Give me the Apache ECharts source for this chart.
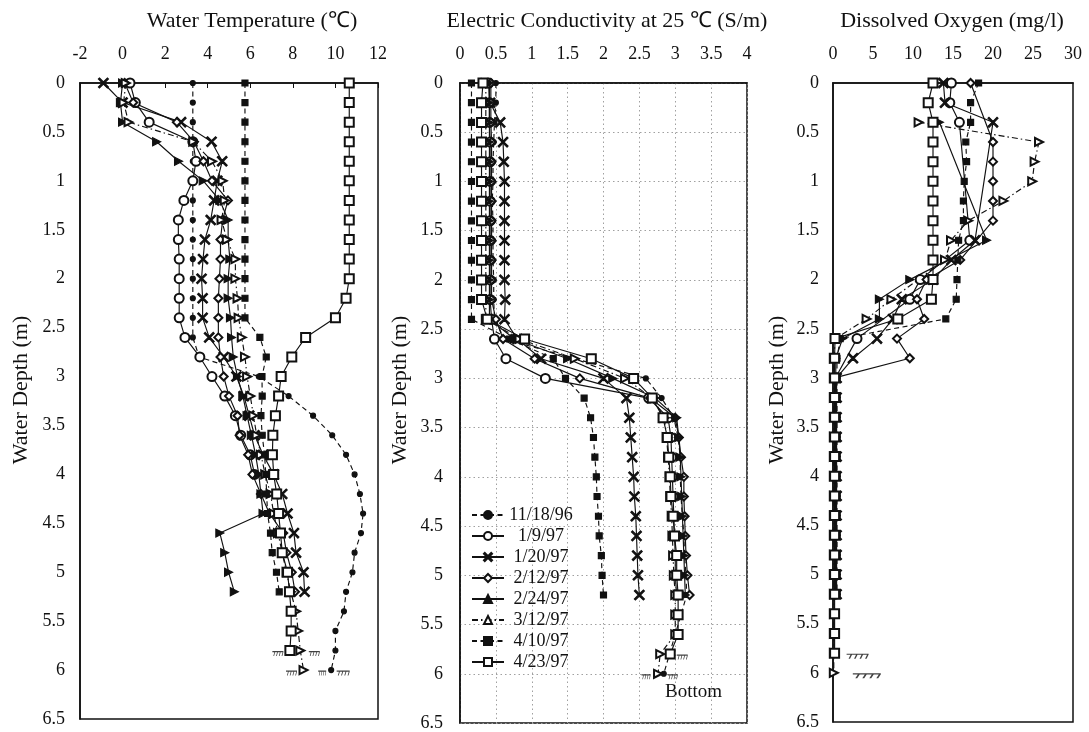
<!DOCTYPE html>
<html>
<head>
<meta charset="utf-8">
<script src="https://cdn.jsdelivr.net/npm/echarts@6/dist/echarts.min.js"></script>
<style>
  html, body { margin: 0; padding: 0; background: #fff; }
  #chart { width: 1089px; height: 732px; }
</style>
</head>
<body>
<div id="chart"></div>
<script>
// Sampling depths (m)
const DEPTH = [0, 0.2, 0.4, 0.6, 0.8, 1.0, 1.2, 1.4, 1.6, 1.8, 2.0, 2.2, 2.4, 2.6, 2.8, 3.0,
               3.2, 3.4, 3.6, 3.8, 4.0, 4.2, 4.4, 4.6, 4.8, 5.0, 5.2, 5.4, 5.6, 5.8, 6.0];

const DATES = ['11/18/96', '1/9/97', '1/20/97', '2/12/97', '2/24/97', '3/12/97', '4/10/97', '4/23/97'];

// Water temperature (°C) per survey date, aligned with DEPTH
const TEMP_111896 = [3.3, 3.3, 3.3, 3.3, 3.3, 3.3, 3.3, 3.3, 3.3, 3.3, 3.3, 3.3, 3.3, 3.3, 3.6, 6.4,
                     7.8, 8.95, 9.85, 10.5, 10.9, 11.15, 11.3, 11.2, 10.9, 10.8, 10.5, 10.4, 10.0, 10.0, 9.8];
const TEMP_010997 = [0.35, 0.6, 1.25, 3.3, 3.45, 3.3, 2.88, 2.62, 2.62, 2.66, 2.66, 2.66, 2.66, 2.93, 3.63, 4.2,
                     4.8, 5.3, 5.55, 6.0, 6.2, null, null, null, null, null, null, null, null, null, null];
const TEMP_012097 = [-0.9, 0.0, 2.75, 4.18, 4.68, 4.45, 4.3, 4.14, 3.87, 3.78, 3.71, 3.76, 3.76, 4.07, 4.75, 5.35,
                     5.7, 5.95, 6.2, 6.6, 7.1, 7.5, 7.75, 8.05, 8.15, 8.5, 8.55, null, null, null, null];
const TEMP_021297 = [0.1, 0.5, 2.55, 3.35, 3.8, 4.2, 4.95, 4.7, 4.6, 4.6, 4.55, 4.5, 4.5, 4.5, 4.6, 4.75,
                     5.0, 5.4, 5.5, 5.9, 6.1, 6.5, 6.9, 7.55, 7.7, 7.95, 8.1, null, null, null, null];
const TEMP_022497 = [0.0, -0.1, 0.0, 1.6, 2.63, 3.79, 4.57, 4.96, 4.96, 5.04, 4.96, 4.96, 5.07, 5.12, 5.2, 5.4,
                     5.65, 5.85, 6.05, 6.25, 6.4, 6.5, 6.6, 4.57, 4.8, 4.98, 5.25, null, null, null, null];
const TEMP_031297 = [0.15, 0.05, 0.28, 3.32, 4.2, 4.7, 4.8, 4.65, 4.9, 5.3, 5.3, 5.4, 5.45, 5.6, 5.75, 5.85,
                     6.0, 6.15, 6.3, 6.5, 6.7, 6.95, 7.1, 7.3, 7.5, 7.7, 7.9, 8.15, 8.25, 8.35, 8.5];
const TEMP_041097 = [5.75, 5.75, 5.75, 5.75, 5.75, 5.75, 5.75, 5.75, 5.75, 5.75, 5.75, 5.75, 5.75, 6.45, 6.75, 6.55,
                     6.56, 6.5, 6.56, 6.67, 6.73, 6.77, 6.81, 6.95, 7.03, 7.23, 7.36, null, null, null, null];
const TEMP_042397 = [10.65, 10.65, 10.65, 10.65, 10.65, 10.65, 10.65, 10.65, 10.65, 10.65, 10.65, 10.5, 10.0, 8.6, 7.95, 7.45,
                     7.33, 7.18, 7.06, 7.04, 7.1, 7.24, 7.33, 7.42, 7.5, 7.75, 7.84, 7.92, 7.92, 7.86, null];

// Electric conductivity at 25 °C (S/m)
const EC_111896 = [0.5, 0.5, 0.48, 0.47, 0.46, 0.46, 0.45, 0.46, 0.46, 0.46, 0.47, 0.47, 0.48, 0.62, null, 2.59,
                   2.81, 2.98, 3.04, 3.07, 3.07, 3.08, 3.1, 3.12, 3.13, 3.15, 3.16, null, null, null, 2.84];
const EC_010997 = [0.4, 0.41, 0.41, 0.42, 0.42, 0.42, 0.42, 0.42, 0.42, 0.42, 0.42, 0.42, 0.44, 0.48, 0.64, 1.19,
                   2.63, 2.9, 2.94, 2.95, 2.96, 2.97, 2.98, 2.99, 3.0, 3.0, 3.02, null, null, null, null];
const EC_012097 = [null, 0.42, 0.56, 0.6, 0.61, 0.62, 0.62, 0.62, 0.62, 0.62, 0.62, 0.63, 0.62, 0.8, 1.13, 2.0,
                   2.32, 2.36, 2.38, 2.4, 2.42, 2.43, 2.45, 2.46, 2.47, 2.48, 2.5, null, null, null, null];
const EC_021297 = [0.43, 0.43, 0.43, 0.44, 0.44, 0.44, 0.44, 0.44, 0.44, 0.44, 0.44, 0.44, 0.5, 0.6, 1.04, 1.67,
                   2.65, 3.0, 3.05, 3.08, 3.12, 3.12, 3.13, 3.14, 3.15, 3.17, 3.2, null, null, null, null];
const EC_022497 = [0.41, 0.41, 0.41, 0.41, 0.41, 0.41, 0.41, 0.41, 0.41, 0.41, 0.41, 0.41, 0.41, 0.76, 1.5, 2.13,
                   2.72, 3.02, 3.05, 3.07, 3.08, 3.09, 3.1, 3.11, 3.12, 3.13, 3.14, null, null, null, null];
const EC_031297 = [0.36, 0.36, 0.36, 0.36, 0.36, 0.36, 0.36, 0.36, 0.36, 0.36, 0.36, 0.36, 0.36, 0.83, 1.6, 2.3,
                   2.68, 2.85, 2.88, 2.9, 2.92, 2.93, 2.95, 2.96, 2.97, 2.98, 3.0, 3.0, 3.0, 2.79, 2.76];
const EC_041097 = [0.16, 0.16, 0.16, 0.16, 0.16, 0.16, 0.16, 0.16, 0.16, 0.16, 0.16, 0.16, 0.16, 0.69, 1.3, 1.47,
                   1.73, 1.82, 1.86, 1.88, 1.9, 1.91, 1.93, 1.94, 1.97, 1.98, 2.0, null, null, null, null];
const EC_042397 = [0.32, 0.3, 0.3, 0.3, 0.3, 0.3, 0.3, 0.3, 0.3, 0.3, 0.3, 0.3, 0.38, 0.9, 1.83, 2.42,
                   2.68, 2.83, 2.89, 2.91, 2.93, 2.94, 2.97, 2.99, 3.02, 3.02, 3.04, 3.04, 3.04, 2.93, null];

// Dissolved oxygen (mg/l)
const DO_010997 = [14.8, 14.6, 15.8, null, null, null, null, null, 17.1, null, 10.9, 9.6, null, 3.0, null, 0.3,
                   0.3, 0.3, 0.3, 0.3, 0.3, 0.3, 0.3, 0.3, 0.3, 0.3, 0.3, null, null, null, null];
const DO_012097 = [13.8, 14.0, 20.0, null, null, null, null, null, 17.75, 14.8, 12.5, 8.6, 7.5, 5.5, 2.5, 0.45,
                   0.45, 0.45, 0.45, 0.45, 0.45, 0.45, 0.45, 0.45, 0.45, 0.45, 0.45, null, null, null, null];
const DO_021297 = [17.2, null, null, 20.0, 20.0, 20.0, 20.0, 20.0, null, 15.9, 11.7, 10.5, 11.4, 8.0, 9.6, 0.2,
                   0.2, 0.2, 0.2, 0.2, 0.2, 0.2, 0.2, 0.2, 0.2, 0.2, 0.2, null, null, null, null];
const DO_022497 = [null, null, 13.3, null, null, null, null, null, 19.2, null, 9.6, 5.8, 5.8, 1.2, 0.35, 0.35,
                   0.35, 0.35, 0.35, 0.35, 0.35, 0.35, 0.35, 0.35, 0.35, 0.35, 0.35, null, null, null, null];
const DO_031297 = [null, null, 10.7, 25.75, 25.2, 24.9, 21.3, 16.9, 14.75, 14.0, null, 7.3, 4.2, 0.3, 0.1, 0.1,
                   0.1, 0.1, 0.1, 0.1, 0.1, 0.1, 0.1, 0.1, 0.1, 0.1, 0.1, 0.1, 0.1, 0.1, 0.1];
const DO_041097 = [18.2, 17.2, 17.2, 16.6, 16.7, 16.4, 16.3, 16.3, 15.7, 15.6, 15.5, 15.4, 14.1, 0.9, 0.5, 0.5,
                   0.5, 0.5, 0.5, 0.5, 0.5, 0.5, 0.5, 0.5, 0.5, 0.5, 0.5, null, null, null, null];
const DO_042397 = [12.5, 11.9, 12.5, 12.5, 12.5, 12.5, 12.5, 12.5, 12.5, 12.5, 12.5, 12.3, 8.1, 0.25, 0.2, 0.2,
                   0.2, 0.2, 0.2, 0.2, 0.2, 0.2, 0.2, 0.2, 0.2, 0.2, 0.2, 0.2, 0.2, 0.2, null];

// Axis tick settings per panel
const TEMP_TICKS = { min: -2, max: 12, interval: 2 };
const EC_TICKS = { min: 0, max: 4, interval: 0.5 };
const DO_TICKS = { min: 0, max: 30, interval: 5 };
const DEPTH_TICKS = { min: 0, max: 6.5, interval: 0.5 };

const PANEL_TITLES = ['Water Temperature (\u2103)', 'Electric Conductivity at 25 \u2103 (S/m)', 'Dissolved Oxygen (mg/l)'];
const DEPTH_NAME = 'Water Depth (m)';
const BOTTOM_TEXT = 'Bottom';

const PANELS = [
  { '11/18/96': TEMP_111896, '1/9/97': TEMP_010997, '1/20/97': TEMP_012097, '2/12/97': TEMP_021297,
    '2/24/97': TEMP_022497, '3/12/97': TEMP_031297, '4/10/97': TEMP_041097, '4/23/97': TEMP_042397 },
  { '11/18/96': EC_111896, '1/9/97': EC_010997, '1/20/97': EC_012097, '2/12/97': EC_021297,
    '2/24/97': EC_022497, '3/12/97': EC_031297, '4/10/97': EC_041097, '4/23/97': EC_042397 },
  { '1/9/97': DO_010997, '1/20/97': DO_012097, '2/12/97': DO_021297,
    '2/24/97': DO_022497, '3/12/97': DO_031297, '4/10/97': DO_041097, '4/23/97': DO_042397 }
];

// Bed markers: [panel, date, depth index, x offset px, width px]
const BED_MARKS = [
  [0, '4/23/97', 29, -12, 11], [0, '3/12/97', 29, 14, 11], [0, '3/12/97', 30, -12, 11],
  [0, '11/18/96', 30, -9, 8], [0, '11/18/96', 30, 12, 13],
  [1, '3/12/97', 30, -12, 9], [1, '11/18/96', 30, 9, 10], [1, '4/23/97', 29, 12, 11],
  [2, '4/23/97', 29, 23, 22], [2, '3/12/97', 30, 33, 28]
];

const FONT = '"Liberation Serif", "Times New Roman", serif';
const INK = '#111';
const X_MARK = 'path://M1,0L5,4L9,0L10,1L6,5L10,9L9,10L5,6L1,10L0,9L4,5L0,1Z';
const BED_PATH = 'path://M0,0L28,0L28,1.6L0,1.6Z M5,1.6L6.9,1.6L4.4,7L2.5,7Z M12,1.6L13.9,1.6L11.4,7L9.5,7Z M19,1.6L20.9,1.6L18.4,7L16.5,7Z M26,1.6L27.9,1.6L25.4,7L23.5,7Z';

const STYLE = {
  '11/18/96': { symbol: 'circle', size: 5, line: [5, 3.5] },
  '1/9/97':   { symbol: 'emptyCircle', size: 9, line: 'solid' },
  '1/20/97':  { symbol: X_MARK, size: 10, line: 'solid' },
  '2/12/97':  { symbol: 'emptyDiamond', size: 8, line: 'solid' },
  '2/24/97':  { symbol: 'triangle', size: 8, rotate: -90, line: 'solid' },
  '3/12/97':  { symbol: 'emptyTriangle', size: 8, rotate: -90, line: [6, 3, 1.5, 3] },
  '4/10/97':  { symbol: 'rect', size: 6, line: [5, 3.5] },
  '4/23/97':  { symbol: 'emptyRect', size: 9, line: 'solid' }
};

const GRIDS = [
  { left: 80, top: 83, width: 298, height: 636 },
  { left: 460, top: 83, width: 287, height: 640 },
  { left: 833, top: 83, width: 240, height: 639 }
];
// Horizontal centres of the panel headings and of the rotated depth captions
const TITLE_X = [252, 607, 952];
const DEPTH_NAME_X = [21, 400, 777];
const DEPTH_NAME_Y = 390;

function toPoints(vals) {
  const out = [];
  vals.forEach((v, i) => { if (v != null) out.push([v, DEPTH[i]]); });
  return out;
}

const series = [];
PANELS.forEach((panel, p) => {
  DATES.forEach(date => {
    const vals = panel[date];
    if (!vals) return;
    const st = STYLE[date];
    series.push({
      type: 'line', name: date, xAxisIndex: p, yAxisIndex: p,
      data: toPoints(vals),
      symbol: st.symbol, symbolSize: st.size, symbolRotate: st.rotate || 0,
      showAllSymbol: true, clip: false, animation: false,
      lineStyle: { color: INK, width: 1.15, type: st.line },
      itemStyle: { color: INK, borderColor: INK, borderWidth: 1.15 },
      emphasis: { disabled: true }
    });
  });
});

BED_MARKS.forEach(([p, date, idx, dx, w]) => {
  const v = PANELS[p][date][idx];
  series.push({
    type: 'scatter', xAxisIndex: p, yAxisIndex: p, silent: true, clip: false, animation: false,
    data: [[v, DEPTH[idx]]],
    symbol: BED_PATH, symbolSize: [w, 5], symbolOffset: [dx, 3],
    itemStyle: { color: INK }, z: 5
  });
});

const axisText = { color: INK, fontFamily: FONT, fontSize: 18 };

function xAxis(p, ticks, extra) {
  return Object.assign({
    type: 'value', gridIndex: p, position: 'top',
    min: ticks.min, max: ticks.max, interval: ticks.interval,
    axisLine: { show: true, onZero: false, lineStyle: { color: INK, width: 1.7 } },
    axisTick: { show: false },
    axisLabel: Object.assign({ margin: 20 }, axisText),
    splitLine: { show: false }
  }, extra || {});
}

function yAxis(p, margin, extra) {
  return Object.assign({
    type: 'value', gridIndex: p, inverse: true,
    min: DEPTH_TICKS.min, max: DEPTH_TICKS.max, interval: DEPTH_TICKS.interval,
    axisLine: { show: true, onZero: false, lineStyle: { color: INK, width: 1.6 } },
    axisTick: { show: false },
    axisLabel: Object.assign({ margin: margin }, axisText),
    splitLine: { show: false }
  }, extra || {});
}

const dotted = { show: true, lineStyle: { color: '#a0a0a0', width: 1, type: [1.5, 3] } };

const graphics = [];
TITLE_X.forEach((x, i) => {
  graphics.push({ type: 'text', x: x, y: 10, style: { text: PANEL_TITLES[i], font: '22px ' + FONT, fill: INK, textAlign: 'center' } });
});
DEPTH_NAME_X.forEach(x => {
  graphics.push({ type: 'text', x: x, y: DEPTH_NAME_Y, rotation: Math.PI / 2,
    style: { text: DEPTH_NAME, font: '22px ' + FONT, fill: INK, textAlign: 'center', textVerticalAlign: 'middle' } });
});
graphics.push({ type: 'text', x: 665, y: 683, style: { text: BOTTOM_TEXT, font: '19px ' + FONT, fill: INK } });

const option = {
  backgroundColor: '#fff',
  animation: false,
  grid: GRIDS.map(g => Object.assign({ show: true, borderColor: INK, borderWidth: 1.5, backgroundColor: 'transparent', containLabel: false }, g)),
  xAxis: [
    xAxis(0, TEMP_TICKS, { axisTick: { show: true, inside: true, length: 5, lineStyle: { color: INK } } }),
    xAxis(1, EC_TICKS, { splitLine: dotted }),
    xAxis(2, DO_TICKS)
  ],
  yAxis: [
    yAxis(0, 15),
    yAxis(1, 17, { splitLine: dotted }),
    yAxis(2, 14)
  ],
  legend: {
    data: DATES, orient: 'vertical', left: 466, top: 501,
    itemWidth: 32, itemHeight: 10, itemGap: 3,
    symbolRotate: 0,
    textStyle: {
      color: INK, fontFamily: FONT, fontSize: 18,
      rich: { a: { width: 64, align: 'center', fontFamily: FONT, fontSize: 18, color: INK, lineHeight: 18.5 } }
    },
    formatter: '{a|{name}}',
    selectedMode: false, inactiveColor: INK
  },
  graphic: graphics,
  series: series
};

const chart = echarts.init(document.getElementById('chart'), null, { renderer: 'canvas' });
chart.setOption(option);
</script>
</body>
</html>
